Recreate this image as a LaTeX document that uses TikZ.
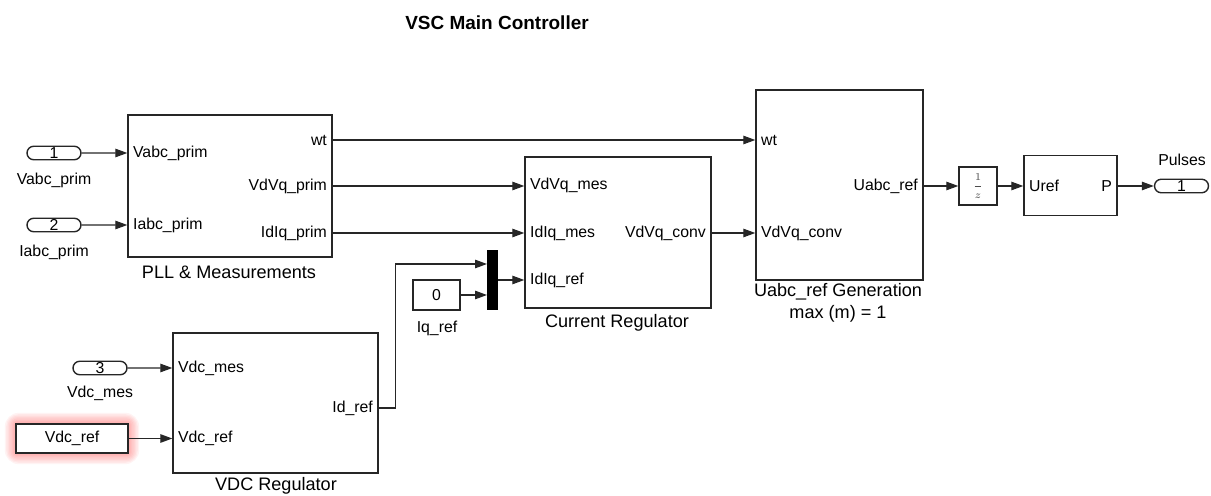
\documentclass[tikz,border=0pt]{standalone}
\usepackage{fontspec}
\setmainfont{Liberation Sans}
\usetikzlibrary{arrows.meta,shapes.misc,calc}

\tikzset{
	blk/.style={draw=black!85, line width=0.8pt, rectangle, inner sep=0pt},
	inport/.style={draw=black!85, line width=0.8pt, rounded rectangle, minimum width=1.08cm, minimum height=0.27cm, inner sep=0pt, font=\fontsize{9}{10}\selectfont},
	plbl/.style={font=\fontsize{9}{10}\selectfont, inner sep=1pt},
	bname/.style={font=\fontsize{10.3}{12.4}\selectfont, align=center, inner sep=0pt},
	sig/.style={draw=black!85, line width=0.7pt, -{Triangle[length=0.24cm,width=0.17cm]}},
}

\begin{document}
\begin{tikzpicture}[x=0.02cm, y=-0.02cm]
		%%%%% START %%%%%
		\useasboundingbox (0,0) rectangle (1211,496);
		
		\node[font=\bfseries\fontsize{10.8}{13}\selectfont] (title) at (497,23) {VSC Main Controller};
		
		% blocks
		\node[blk, minimum width=4.08cm, minimum height=2.84cm] (pll) at (230,186) {};
		\node[blk, minimum width=3.72cm, minimum height=3.02cm] (cr) at (618,232.5) {};
		\node[blk, minimum width=3.34cm, minimum height=3.8cm] (ug) at (839.5,185) {};
		\node[blk, minimum width=4.1cm, minimum height=2.8cm] (vdc) at (275.5,403) {};
		\node[blk, minimum width=0.76cm, minimum height=0.76cm, font=\fontsize{6}{7}\selectfont, text=black!70] (dly) at (978,186) {$\displaystyle\frac{1}{z}$};
		\node[blk, minimum width=1.86cm, minimum height=1.2cm] (pwm) at (1070.5,185.5) {};
		\node[blk, minimum width=0.94cm, minimum height=0.6cm, font=\fontsize{9}{10}\selectfont] (zero) at (436.5,295) {0};
		\node[fill=black, minimum width=0.22cm, minimum height=1.2cm, inner sep=0pt] (mux) at (492.5,280) {};
		
		% in/out ports
		\node[inport] (in1) at (54,153) {1};
		\node[inport] (in2) at (54,225) {2};
		\node[inport] (in3) at (100,368) {3};
		\node[inport] (out1) at (1181.5,186) {1};
		
		\foreach \g in {1,...,8}
			\fill[red!80, opacity=0.06, rounded corners=\g pt] (16-1.4*\g,424-1.4*\g) rectangle (128+1.4*\g,453+1.4*\g);
		\node[blk, fill=white, minimum width=2.24cm, minimum height=0.58cm, font=\fontsize{9}{10}\selectfont] (vref) at (72,438.5) {Vdc\_ref};
		
		% port labels
		\node[plbl, anchor=west] (pllA) at (131,153) {Vabc\_prim};
		\node[plbl, anchor=west] (pllB) at (131,225) {Iabc\_prim};
		\node[plbl, anchor=east] (pllwt) at (329,140) {wt};
		\node[plbl, anchor=east] (pllV) at (329,186) {VdVq\_prim};
		\node[plbl, anchor=east] (pllI) at (329,233) {IdIq\_prim};
		
		\node[plbl, anchor=west] (crA) at (528,185) {VdVq\_mes};
		\node[plbl, anchor=west] (crB) at (528,233) {IdIq\_mes};
		\node[plbl, anchor=west] (crC) at (528,280) {IdIq\_ref};
		\node[plbl, anchor=east] (crV) at (708,233) {VdVq\_conv};
		
		\node[plbl, anchor=west] (ugwt) at (759,140) {wt};
		\node[plbl, anchor=west] (ugV) at (759,233) {VdVq\_conv};
		\node[plbl, anchor=east] (ugU) at (920,186) {Uabc\_ref};
		
		\node[plbl, anchor=west] (vdcA) at (176,368) {Vdc\_mes};
		\node[plbl, anchor=west] (vdcB) at (176,438) {Vdc\_ref};
		\node[plbl, anchor=east] (vdcId) at (375,408) {Id\_ref};
		
		\node[plbl, anchor=west] (pwmU) at (1027,186) {Uref};
		\node[plbl, anchor=east] (pwmP) at (1114,186) {P};
		
		% names under the blocks
		\node[plbl] (in1name) at (54,180) {Vabc\_prim};
		\node[plbl] (in2name) at (54,252) {Iabc\_prim};
		\node[plbl] (in3name) at (100,393) {Vdc\_mes};
		\node[plbl] (zeroname) at (437,328) {Iq\_ref};
		\node[plbl] (out1name) at (1182,160) {Pulses};
		\node[bname] (pllname) at (229,272) {PLL \& Measurements};
		\node[bname] (crname) at (617,323) {Current Regulator};
		\node[bname] (ugname) at (838,303) {Uabc\_ref Generation\\max (m) = 1};
		\node[bname] (vdcname) at (276,486) {VDC Regulator};
		
		% signals
		\coordinate (muxA) at (487,264);
		\coordinate (muxB) at (487,295);
		\draw[sig] (in1) -- (in1 -| pll.west);
		\draw[sig] (in2) -- (in2 -| pll.west);
		\draw[sig] (pllwt -| pll.east) -- (pllwt -| ug.west);
		\draw[sig] (pllV -| pll.east) -- (pllV -| cr.west);
		\draw[sig] (pllI -| pll.east) -- (pllI -| cr.west);
		\draw[sig] (crV -| cr.east) -- (crV -| ug.west);
		\draw[sig] (ugU -| ug.east) -- (dly);
		\draw[sig] (dly) -- (dly -| pwm.west);
		\draw[sig] (pwmP -| pwm.east) -- (out1);
		\draw[sig] (in3) -- (in3 -| vdc.west);
		\draw[sig] (vref) -- (vref -| vdc.west);
		\draw[sig] (vdcId -| vdc.east) -- ++(17,0) |- (muxA);
		\draw[sig] (zero) -- (muxB);
		\draw[sig] (mux) -- (mux -| cr.west);
		
		%%%%% END %%%%%
\end{tikzpicture}
\end{document}
